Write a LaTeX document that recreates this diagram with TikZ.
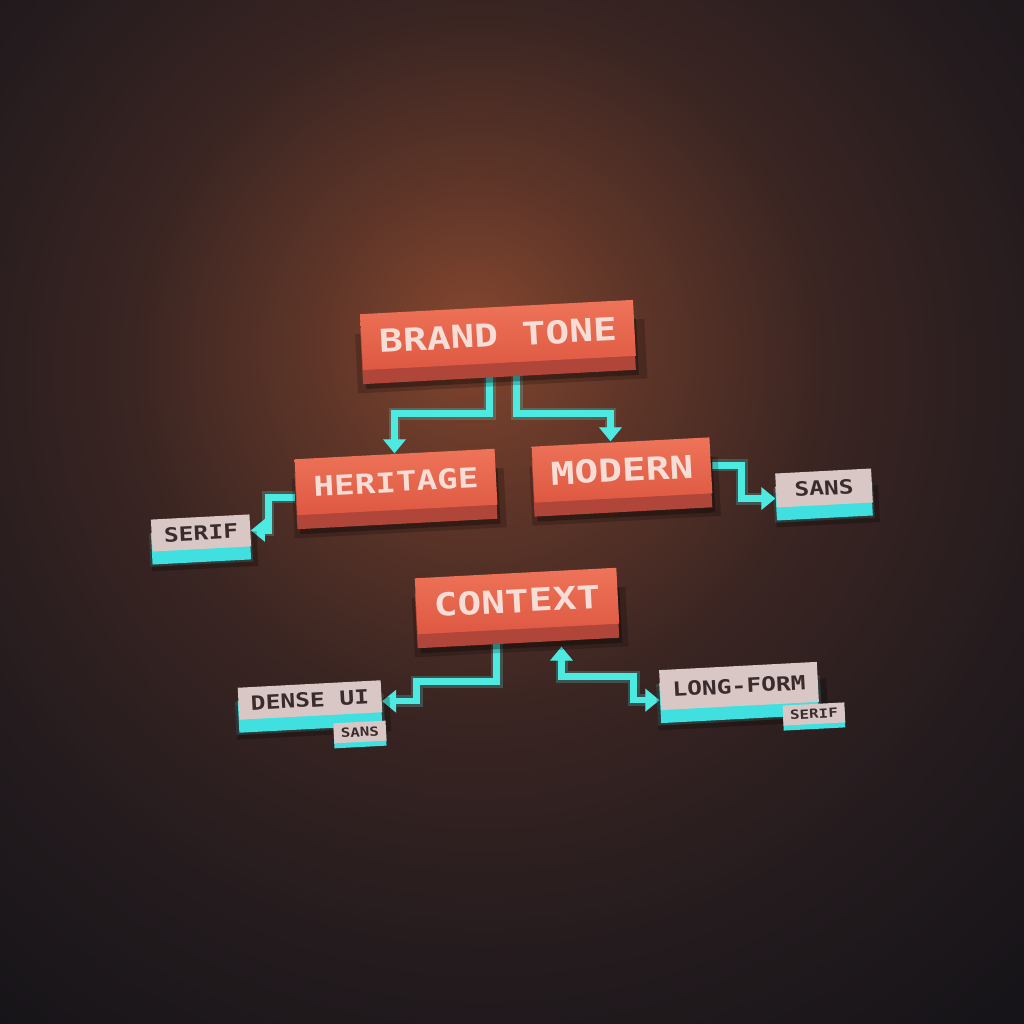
\documentclass[tikz,border=0pt]{standalone}
\usepackage{fontspec}
\usepackage{tikz}
\usetikzlibrary{arrows.meta,shadows}
\newfontfamily\pixfont[FakeStretch=1.25]{DejaVu Sans Mono}

\definecolor{bgdark}{HTML}{121217}
\definecolor{glowhot}{HTML}{84462F}
\definecolor{glowmid}{HTML}{5E3528}
\definecolor{glowlow}{HTML}{3A2522}
\definecolor{glowedge}{HTML}{241B1E}
\definecolor{facetop}{HTML}{EE7459}
\definecolor{facebot}{HTML}{DE5842}
\definecolor{faceside}{HTML}{B0453A}
\definecolor{facetext}{HTML}{F6DED6}
\definecolor{leafface}{HTML}{D9C7C6}
\definecolor{leafside}{HTML}{40E0E0}
\definecolor{leaftext}{HTML}{3A2C2C}
\definecolor{linkcol}{HTML}{4DEAE2}
\definecolor{linkglow}{HTML}{50F0EA}

\pgfdeclarelayer{back}
\pgfdeclarelayer{wire}
\pgfsetlayers{back,wire,main}

\pgfdeclareradialshading{bgglow}{\pgfpoint{-2bp}{9bp}}{%
  color(0bp)=(glowhot); color(8bp)=(glowmid); color(17bp)=(glowlow);
  color(28bp)=(glowedge); color(42bp)=(bgdark); color(90bp)=(bgdark)}

\tikzset{
  main box/.style={rotate=3, font=\pixfont\bfseries\fontsize{9}{9}\selectfont,
    text=facetext, top color=facetop, bottom color=facebot,
    inner xsep=5pt, inner ysep=0pt, minimum height=0.56cm,
    general shadow={shadow xshift=0.03cm, shadow yshift=-0.2cm, shadow scale=1.06, fill=black, opacity=0.2},
    general shadow={shadow xshift=0.03cm, shadow yshift=-0.19cm, fill=black, opacity=0.3},
    copy shadow={shadow xshift=0cm, shadow yshift=-0.14cm, fill=faceside, draw=none}},
  leaf box/.style={rotate=3, font=\pixfont\bfseries\fontsize{5.6}{6}\selectfont,
    text=leaftext, fill=leafface, inner xsep=3.5pt, inner ysep=0pt, minimum height=0.32cm,
    general shadow={shadow xshift=0.03cm, shadow yshift=-0.17cm, shadow scale=1.08, fill=black, opacity=0.25},
    general shadow={shadow yshift=-0.14cm, shadow scale=1.04, fill=linkglow, opacity=0.15},
    copy shadow={shadow xshift=0cm, shadow yshift=-0.13cm, fill=leafside, draw=none}},
  tag box/.style={rotate=3, font=\pixfont\bfseries\fontsize{3.6}{4}\selectfont,
    text=leaftext, fill=leafface, inner xsep=2pt, inner ysep=0pt, minimum height=0.2cm,
    copy shadow={shadow xshift=0cm, shadow yshift=-0.05cm, fill=leafside, draw=none}},
  link/.style={draw=linkcol, line width=0.065cm,
    -{Triangle[width=0.22cm,length=0.14cm]},
    preaction={draw=linkglow, line width=0.12cm, opacity=0.22}}
}

\begin{document}
\begin{tikzpicture}
    \useasboundingbox (0,0) rectangle (10.24,10.24);

    % backdrop with warm light
    \begin{pgfonlayer}{back}
      \shade[shading=bgglow] (0,0) rectangle (10.24,10.24);
    \end{pgfonlayer}

    % tone blocks
    \node[main box] (brand) at (4.98,6.89) {BRAND TONE};
    \node[main box, font=\pixfont\bfseries\fontsize{7.8}{8}\selectfont] (heritage) at (3.96,5.42) {HERITAGE};
    \node[main box] (modern) at (6.22,5.54) {MODERN};
    \node[main box] (context) at (5.17,4.23) {CONTEXT};

    % font choices
    \node[leaf box] (serif) at (2.01,4.91) {SERIF};
    \node[leaf box, minimum width=0.96cm, minimum height=0.34cm] (sans) at (8.24,5.36) {SANS};
    \node[leaf box] (dense) at (3.10,3.24) {DENSE UI};
    \node[leaf box, minimum height=0.4cm] (longform) at (7.39,3.38) {LONG-FORM};
    \node[tag box] (densetag) at (3.60,2.92) {SANS};
    \node[tag box] (longtag) at (8.14,3.10) {SERIF};

    % glowing links
    \begin{pgfonlayer}{wire}
      \draw[link] ([xshift=-0.1cm]brand.south) -- ++(0,-0.5) -| (heritage.north);
      \draw[link] ([xshift=0.17cm]brand.south) -- ++(0,-0.5) -| ([xshift=-0.1cm]modern.north);
      \draw[link] ([yshift=-0.1cm]heritage.west) -- ++(-0.27,0) |- (serif.east);
      \draw[link] (modern.east) -- ++(0.3,0) |- ([yshift=-0.08cm]sans.west);
      \draw[link] ([xshift=-0.22cm]context.south) -- ++(0,-0.52) -- ++(-0.8,0) |- ([yshift=-0.05cm]dense.east);
      \draw[link, {Triangle[width=0.22cm,length=0.14cm]}-{Triangle[width=0.22cm,length=0.14cm]}]
        ([xshift=0.43cm,yshift=-0.17cm]context.south) -- ++(0,-0.3) -- ++(0.72,0) |- ([yshift=-0.1cm]longform.west);
    \end{pgfonlayer}
\end{tikzpicture}
\end{document}
